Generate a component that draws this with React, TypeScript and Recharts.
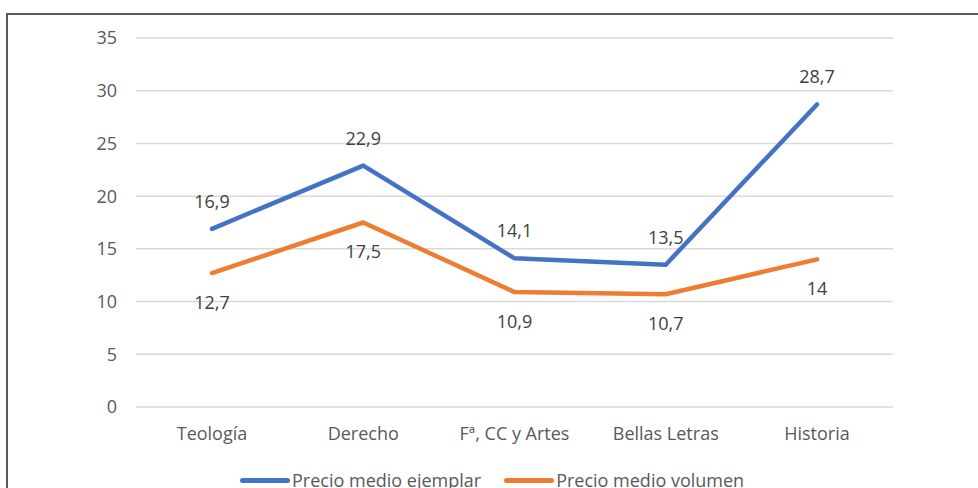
import { LineChart, Line, XAxis, YAxis, CartesianGrid, Legend, LabelList } from 'recharts';

const CATEGORIES = ['Teología', 'Derecho', 'Fª, CC y Artes', 'Bellas Letras', 'Historia'];
const PRECIO_EJEMPLAR = [16.9, 22.9, 14.1, 13.5, 28.7];
const PRECIO_VOLUMEN = [12.7, 17.5, 10.9, 10.7, 14];
const Y_TICKS = [0, 5, 10, 15, 20, 25, 30, 35];

const SERIES = [
  { key: 'ejemplar', name: 'Precio medio ejemplar', color: '#4472C4' },
  { key: 'volumen', name: 'Precio medio volumen', color: '#ED7D31' },
];

const data = CATEGORIES.map((cat, i) => ({
  cat,
  ejemplar: PRECIO_EJEMPLAR[i],
  volumen: PRECIO_VOLUMEN[i],
}));

const FONT = '"Open Sans", sans-serif';

function formatNum(v: number): string {
  return String(v).replace('.', ',');
}

function LegendContent() {
  return (
    <div style={{ display: 'flex', alignItems: 'center', paddingLeft: 240, fontFamily: FONT, fontSize: 18, color: '#595959' }}>
      {SERIES.map((s, i) => (
        <div key={s.key} style={{ display: 'flex', alignItems: 'center', marginRight: i === 0 ? 23 : 0 }}>
          <span style={{ display: 'inline-block', width: 50, height: 5, borderRadius: 3, background: s.color, marginRight: 2 }} />
          <span>{s.name}</span>
        </div>
      ))}
    </div>
  );
}

export default function App() {
  return (
    <div style={{ position: 'absolute', left: 0, top: 0, width: 978, height: 488, overflow: 'hidden', background: '#fff' }}>
      <div
        style={{
          position: 'absolute',
          left: 6,
          top: 13,
          width: 1000,
          height: 500,
          borderTop: '2px solid #595959',
          borderLeft: '2px solid #595959',
        }}
      />
      <div style={{ position: 'absolute', left: 0, top: 0 }}>
        <LineChart width={978} height={488} data={data} margin={{ top: 38, right: 85, bottom: 0, left: 0 }}>
          <CartesianGrid vertical={false} stroke="#d9d9d9" strokeWidth={1.5} />
          <XAxis
            dataKey="cat"
            axisLine={false}
            tickLine={false}
            height={57}
            tickMargin={14}
            padding={{ left: 76, right: 76 }}
            tick={{ fill: '#595959', fontSize: 18, fontFamily: FONT }}
          />
          <YAxis
            domain={[0, 35]}
            ticks={Y_TICKS}
            width={136}
            axisLine={false}
            tickLine={false}
            tickMargin={13}
            tick={{ fill: '#595959', fontSize: 18, fontFamily: FONT }}
          />
          <Legend verticalAlign="bottom" content={<LegendContent />} wrapperStyle={{ left: 0, width: 978, bottom: -4 }} />
          {SERIES.map((s, i) => (
            <Line
              key={s.key}
              type="linear"
              dataKey={s.key}
              name={s.name}
              stroke={s.color}
              strokeWidth={4.5}
              strokeLinecap="round"
              strokeLinejoin="round"
              dot={false}
              isAnimationActive={false}
            >
              <LabelList
                dataKey={s.key}
                position={i === 0 ? 'top' : 'bottom'}
                offset={i === 0 ? 21 : 23}
                formatter={(v: number) => formatNum(v)}
                style={{ fill: '#404040', fontSize: 18, fontFamily: FONT }}
              />
            </Line>
          ))}
        </LineChart>
      </div>
    </div>
  );
}
